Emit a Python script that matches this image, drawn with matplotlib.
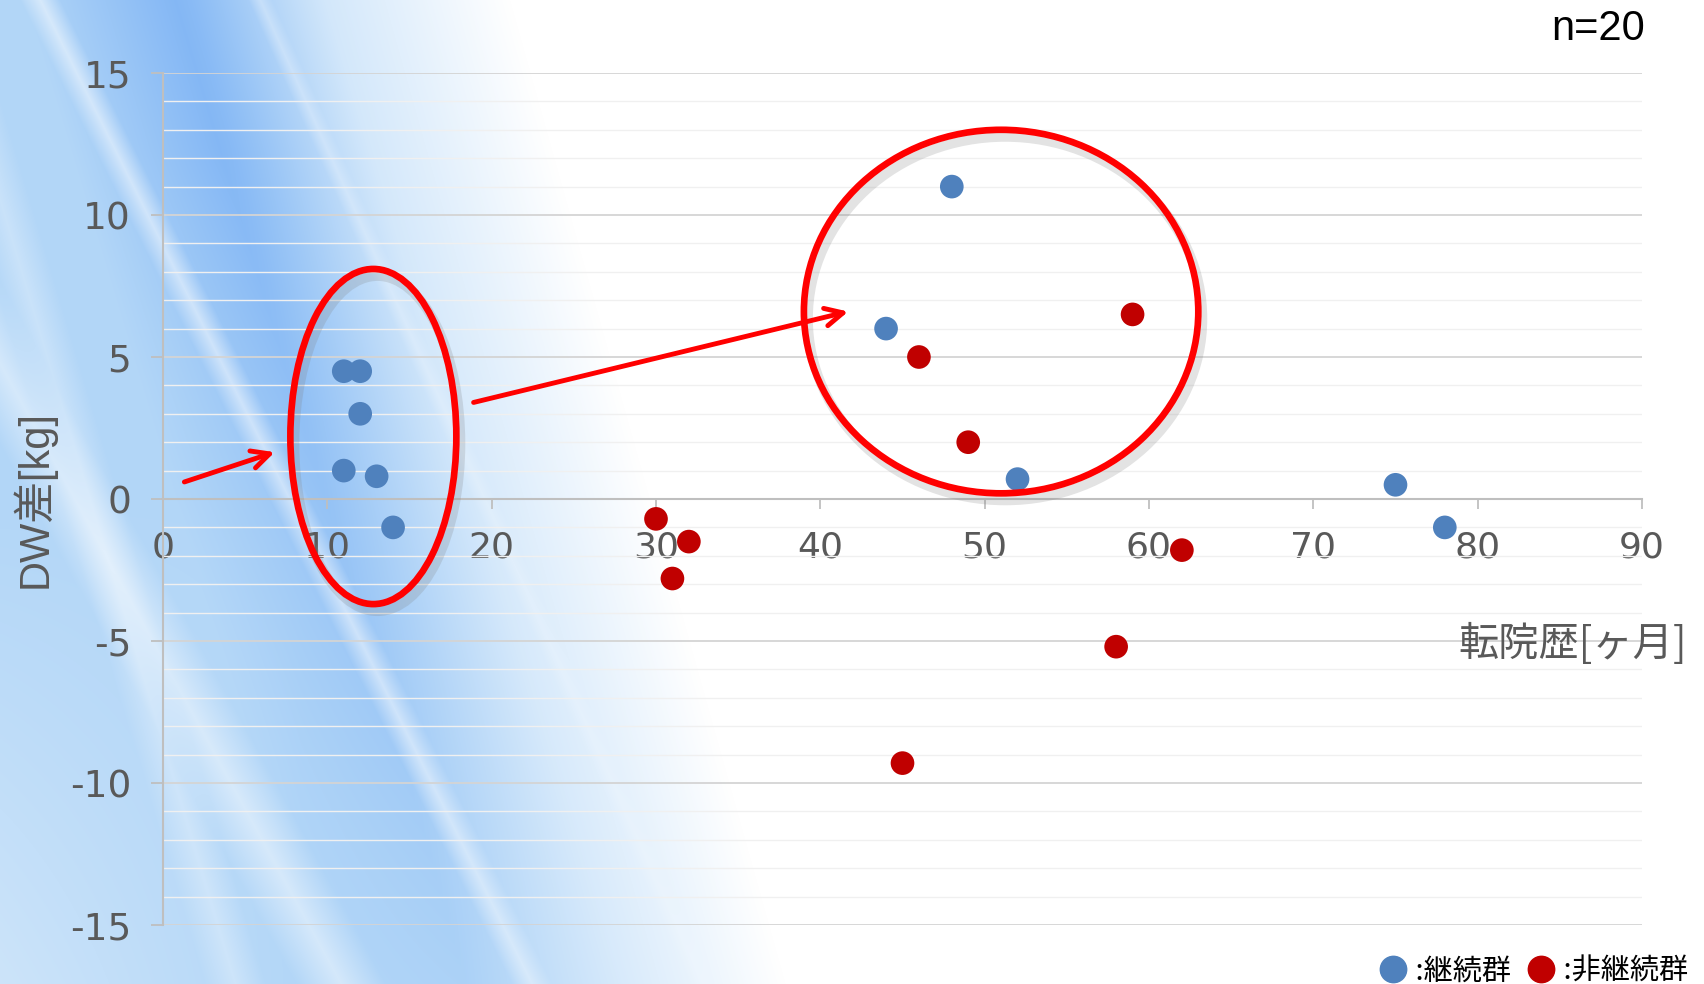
import numpy as np
import matplotlib.pyplot as plt
from matplotlib.patches import Ellipse
from matplotlib.lines import Line2D
from matplotlib.ticker import MultipleLocator

plt.rcParams['font.family'] = ['DejaVu Sans', 'Noto Sans CJK JP']
plt.rcParams['axes.unicode_minus'] = False

# 継続群 (blue) and 非継続群 (red): x = 転院歴[ヶ月], y = DW差[kg]
cont_x = [11, 12, 12, 11, 13, 14, 44, 48, 52, 75, 78]
cont_y = [4.5, 4.5, 3, 1, 0.8, -1, 6, 11, 0.7, 0.5, -1]
noncont_x = [30, 32, 31, 46, 49, 59, 62, 58, 45]
noncont_y = [-0.7, -1.5, -2.8, 5, 2, 6.5, -1.8, -5.2, -9.3]

x_ticks = list(range(0, 91, 10))
y_ticks = list(range(-15, 16, 5))

BLUE = '#4f81bd'
RED = '#c00000'
GRAY = '#595959'
W, H = 1704, 984


def background(w, h):
    yy, xx = np.mgrid[0:h, 0:w].astype(float)
    white = np.array([1.0, 1.0, 1.0])
    light = np.array([0.70, 0.84, 0.97])
    deep = np.array([0.52, 0.72, 0.96])
    # overall blue area fading out to the right along a diagonal
    edge = 340 + 0.28 * yy
    a = np.clip((edge + 170 - xx) / 320, 0, 1)
    # darker diagonal band
    band = 175 + 0.3 * yy
    b = np.clip(1 - np.abs(xx - band) / 150, 0, 1) * a * np.clip(1.15 - yy / h, 0, 1)
    img = white * (1 - a[..., None]) + light * a[..., None]
    img = img * (1 - b[..., None]) + deep * b[..., None]
    # soft light streaks
    for x0, slope, width, k in [(-200, 0.55, 45, 0.45), (40, 0.5, 20, 0.5),
                                (-60, 0.3, 30, 0.3), (260, 0.45, 12, 0.4)]:
        s = np.clip(1 - np.abs(xx - (x0 + slope * yy)) / width, 0, 1) * k * a
        img = img * (1 - s[..., None]) + white * s[..., None]
    # lighten lower-left corner a bit
    c = np.clip((yy - 500) / 500, 0, 1) * np.clip(1 - xx / 300, 0, 1) * 0.35
    img = img * (1 - c[..., None]) + white * c[..., None]
    return np.clip(img, 0, 1)


fig = plt.figure(figsize=(W / 100, H / 100), dpi=100)
fig.figimage(background(W, H), 0, 0, zorder=-10)

ax = fig.add_axes([163 / W, 1 - 925 / H, (1642 - 163) / W, (925 - 73) / H])
ax.set_facecolor('none')
ax.set_xlim(0, 90)
ax.set_ylim(-15, 15)

ax.set_xticks(x_ticks)
ax.set_yticks(y_ticks)
ax.yaxis.set_minor_locator(MultipleLocator(1))
ax.grid(axis='y', which='major', color='#d4d4d4', lw=1.3, zorder=1)
ax.grid(axis='y', which='minor', color='#f0f0f0', lw=1.0, zorder=1)
ax.grid(axis='x', visible=False)

for side in ['top', 'right']:
    ax.spines[side].set_visible(False)
ax.spines['bottom'].set_position(('data', 0))
for side in ['left', 'bottom']:
    ax.spines[side].set_color('#bfbfbf')
    ax.spines[side].set_linewidth(1.5)

ax.tick_params(axis='x', which='major', length=7, width=1.3, color='#bfbfbf',
               labelsize=26, labelcolor=GRAY, pad=16)
ax.tick_params(axis='y', which='major', length=9, width=1.3, color='#bfbfbf',
               labelsize=27, labelcolor=GRAY, pad=14)
ax.tick_params(axis='y', which='minor', length=0)

ax.scatter(cont_x, cont_y, s=290, color=BLUE, edgecolor='none', zorder=4)
ax.scatter(noncont_x, noncont_y, s=290, color=RED, edgecolor='none', zorder=4)

# highlight ellipses with soft shadow
for cx, cy, ew, eh in [(12.8, 2.2, 10.1, 11.8), (51.0, 6.6, 24.0, 12.8)]:
    ax.add_patch(Ellipse((cx + 0.25, cy - 0.25), ew, eh, fill=False,
                         ec='#808080', lw=7, alpha=0.22, zorder=5))
    ax.add_patch(Ellipse((cx, cy), ew, eh, fill=False, ec='#ff0000',
                         lw=4.8, zorder=6))

for (x0, y0), (x1, y1) in [((1.3, 0.6), (6.8, 1.65)), ((18.9, 3.4), (41.7, 6.6))]:
    ax.annotate('', xy=(x1, y1), xytext=(x0, y0),
                arrowprops=dict(arrowstyle='->', color='#ff0000', lw=3.5,
                                mutation_scale=32, shrinkA=0, shrinkB=0),
                zorder=6)

fig.text(33 / W, 1 - 499 / H, 'DW差[kg]', rotation=90, ha='center', va='center',
         fontsize=30, color=GRAY, family=['Liberation Sans', 'Noto Sans CJK JP'])
fig.text(1687 / W, 1 - 644 / H, '転院歴[ヶ月]', ha='right', va='center',
         fontsize=29, color=GRAY, family=['Noto Sans CJK JP'])
fig.text(1645 / W, 1 - 29 / H, 'n=20', ha='right', va='center',
         fontsize=30, color='black', family=['Liberation Sans'])

handles = [Line2D([], [], ls='none', marker='o', ms=19, color=BLUE),
           Line2D([], [], ls='none', marker='o', ms=19, color=RED)]
fig.legend(handles, [' :継続群', ' :非継続群'], loc='lower right',
           bbox_to_anchor=(1706 / W, -20 / H), ncol=2, frameon=False,
           handletextpad=0.0, columnspacing=0.5, handlelength=1.1,
           prop={'family': 'Noto Sans CJK JP', 'size': 21}, borderpad=0.1)

fig.savefig('out.png', dpi=100)
